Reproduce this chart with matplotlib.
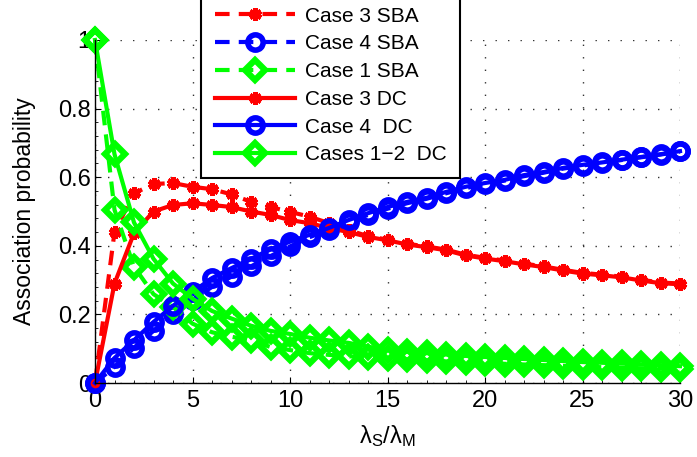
import matplotlib
matplotlib.use("Agg")
import matplotlib.pyplot as plt
from matplotlib.ticker import MultipleLocator

plt.rcParams['font.family'] = ['Liberation Sans', 'DejaVu Sans']
plt.rcParams['mathtext.fontset'] = 'custom'
plt.rcParams['mathtext.rm'] = 'Liberation Sans'
plt.rcParams['mathtext.it'] = 'Liberation Sans'
plt.rcParams['mathtext.sf'] = 'Liberation Sans'

# density ratio lambda_S / lambda_M
ratio = list(range(0, 31))

case3_sba = [0, 0.44, 0.553, 0.58, 0.583, 0.572, 0.565, 0.55, 0.528, 0.513, 0.499,
             0.485, 0.466, 0.446, 0.428, 0.418, 0.406, 0.398, 0.389, 0.374, 0.365,
             0.357, 0.348, 0.34, 0.33, 0.321, 0.316, 0.31, 0.301, 0.293, 0.29]
case4_sba = [0, 0.047, 0.103, 0.152, 0.2, 0.243, 0.28, 0.31, 0.34, 0.37, 0.398,
             0.425, 0.447, 0.47, 0.49, 0.508, 0.524, 0.537, 0.553, 0.568, 0.58,
             0.59, 0.603, 0.613, 0.625, 0.634, 0.642, 0.65, 0.658, 0.666, 0.675]
case1_sba = [1, 0.505, 0.339, 0.259, 0.222, 0.173, 0.148, 0.135, 0.124, 0.105, 0.096,
             0.087, 0.082, 0.078, 0.075, 0.072, 0.069, 0.066, 0.063, 0.06, 0.058,
             0.056, 0.054, 0.052, 0.05, 0.048, 0.046, 0.045, 0.043, 0.042, 0.04]
case3_dc = [0, 0.29, 0.437, 0.50, 0.519, 0.524, 0.519, 0.513, 0.50, 0.49, 0.475,
            0.466, 0.452, 0.44, 0.426, 0.416, 0.404, 0.396, 0.387, 0.372, 0.363,
            0.355, 0.346, 0.338, 0.328, 0.319, 0.314, 0.308, 0.299, 0.291, 0.288]
case4_dc = [0, 0.073, 0.125, 0.178, 0.225, 0.265, 0.306, 0.335, 0.362, 0.39, 0.412,
            0.432, 0.452, 0.475, 0.495, 0.513, 0.528, 0.54, 0.557, 0.572, 0.583,
            0.592, 0.606, 0.615, 0.627, 0.636, 0.643, 0.651, 0.659, 0.667, 0.676]
case12_dc = [1, 0.667, 0.468, 0.362, 0.29, 0.246, 0.21, 0.188, 0.167, 0.152, 0.143,
             0.132, 0.124, 0.117, 0.106, 0.096, 0.091, 0.087, 0.083, 0.079, 0.076,
             0.073, 0.07, 0.067, 0.064, 0.061, 0.059, 0.057, 0.054, 0.052, 0.049]

labels = ['Case 3 SBA', 'Case 4 SBA', 'Case 1 SBA',
          'Case 3 DC', 'Case 4  DC', 'Cases 1\u22122  DC']

fig = plt.figure(figsize=(6.97, 4.57), dpi=100)
ax = fig.add_axes([95 / 697, 74 / 457, 585 / 697, 343 / 457])

RED, BLUE, GREEN = '#ff0000', '#0000ff', '#00ff00'
lw = 3.0
dash = (0, (3.5, 2.2))
star = (6, 2, 0)

series = [
    (case3_sba, RED, dash, star, 9, 3.5, labels[0]),
    (case4_sba, BLUE, dash, 'o', 11, 4.0, labels[1]),
    (case1_sba, GREEN, dash, 'D', 10.5, 4.5, labels[2]),
    (case3_dc, RED, '-', star, 9, 3.5, labels[3]),
    (case4_dc, BLUE, '-', 'o', 11, 4.0, labels[4]),
    (case12_dc, GREEN, '-', 'D', 10.5, 4.5, labels[5]),
]
for vals, col, ls, mk, ms, mew, lab in series:
    ax.plot(ratio, vals, color=col, linestyle=ls, linewidth=lw, marker=mk,
            markersize=ms, markerfacecolor='none', markeredgecolor=col,
            markeredgewidth=mew, label=lab, clip_on=False)

ax.set_xlim(0, 30)
ax.set_ylim(0, 1)
ax.xaxis.set_major_locator(MultipleLocator(5))
ax.xaxis.set_minor_locator(MultipleLocator(1))
ax.yaxis.set_minor_locator(MultipleLocator(0.04))
ax.set_yticks([0, 0.2, 0.4, 0.6, 0.8, 1])
ax.set_yticklabels(['0', '0.2', '0.4', '0.6', '0.8', '1'])
ax.tick_params(which='both', direction='in', labelsize=17, colors='black')
ax.tick_params(which='major', length=4, width=0.8)
ax.tick_params(which='minor', length=2, width=0.6)
ax.tick_params(axis='x', pad=5)
ax.tick_params(axis='y', pad=3)

ax.spines['top'].set_visible(False)
ax.spines['right'].set_visible(False)
ax.spines['left'].set_linewidth(1.0)
ax.spines['bottom'].set_linewidth(1.0)

ax.grid(True, which='major', color='#333333', linestyle=(0, (1, 8)), linewidth=1.0)
ax.set_axisbelow(True)

ax.set_xlabel(r'$\mathrm{\lambda_S/\lambda_M}$', fontsize=17, labelpad=8)
ax.set_ylabel('Association probability', fontsize=16.5, labelpad=16)

leg = fig.legend(loc='lower left', bbox_to_anchor=(201 / 697, 279 / 457),
                 fontsize=15, handlelength=3.85, handletextpad=0.48,
                 labelspacing=0.42, borderpad=0.65, borderaxespad=0,
                 fancybox=False, framealpha=1, edgecolor='black', numpoints=1)
leg.get_frame().set_linewidth(1.5)

fig.savefig('out.png', dpi=100)
